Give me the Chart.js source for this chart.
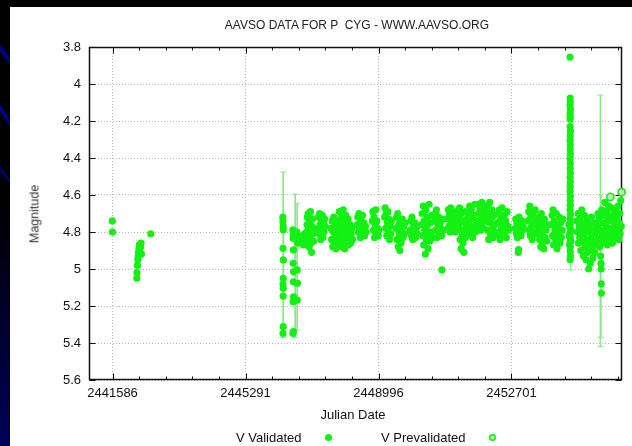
<!DOCTYPE html>
<html>
<head>
<meta charset="utf-8">
<title>P Cyg light curve</title>
<script src="https://cdn.jsdelivr.net/npm/chart.js@4/dist/chart.umd.min.js"></script>
<style>
  html, body { margin: 0; padding: 0; }
  body {
    width: 632px; height: 446px; position: relative; overflow: hidden;
    background: linear-gradient(180deg, #000 0%, #000 45%, #000058 100%);
    font-family: "Liberation Sans", Arial, sans-serif; color: #111;
  }
  #deco { position: absolute; left: 0; top: 0; }
  #panel { position: absolute; left: 10px; top: 7px; right: 0; bottom: 0; background: #fff; }
  #chart { position: absolute; left: 0; top: 0; }
  .txt { position: absolute; white-space: pre; line-height: 15px; font-size: 13px; }
  .dot { position: absolute; width: 7px; height: 7px; border-radius: 50%; background: #14f014; }
  .dot.pre { background: #b6f7b6; box-shadow: inset 0 0 0 1.6px #14f014; }
</style>
</head>
<body>
<svg id="deco" width="10" height="446">
  <line x1="-2" y1="45" x2="12" y2="64" stroke="#00008c" stroke-width="4"/>
  <line x1="-2" y1="105" x2="12" y2="126" stroke="#00008c" stroke-width="4"/>
  <line x1="-2" y1="166" x2="12" y2="184" stroke="#000070" stroke-width="3"/>
</svg>
<div id="panel"></div>
<canvas id="chart" width="632" height="446"></canvas>

<div class="txt" style="left:357px;top:18px;font-size:12px;color:#222;transform:translateX(-50%)">AAVSO DATA FOR P  CYG - WWW.AAVSO.ORG</div>
<div class="txt" style="left:35px;top:214px;font-size:12.5px;color:#333;transform:translate(-50%,-50%) rotate(-90deg)">Magnitude</div>
<div class="txt" style="left:353px;top:407px;transform:translateX(-50%)">Julian Date</div>
<div class="txt" style="left:236px;top:430px">V Validated</div>
<span class="dot" style="left:325px;top:434px"></span>
<div class="txt" style="left:381px;top:430px">V Prevalidated</div>
<span class="dot pre" style="left:489px;top:434px"></span>

<script>
// ── Axes ──────────────────────────────────────────────────────────────────────
const JD_MIN        = 2440930
const JD_MAX        = 2455780
const JD_MAJOR      = [2441586, 2445291, 2448996, 2452701]
const JD_MINOR_STEP = 741
const MAG_TICKS     = [3.8, 4, 4.2, 4.4, 4.6, 4.8, 5, 5.2, 5.4, 5.6]

const GREEN     = '#14f014'
const BAR_GREEN = '#8ce68c'

// ── Validated V observations [JD, mag] ───────────────────────────────────────
const early1970s = [
  [2441580, 4.74], [2441584, 4.80],
  [2442262, 5.05], [2442266, 5.02], [2442280, 4.98], [2442290, 4.95], [2442300, 4.93],
  [2442310, 4.91], [2442322, 4.89], [2442335, 4.87], [2442350, 4.90], [2442368, 4.88],
  [2442380, 4.86], [2442392, 4.92],
  [2442651, 4.81],
]

const fade1986 = [
  [2446330, 4.72], [2446334, 4.744], [2446338, 4.771], [2446342, 4.789], [2446336, 4.888],
  [2446344, 4.951], [2446340, 5.05], [2446335, 5.081], [2446343, 5.104], [2446338, 5.146],
  [2446341, 5.312], [2446336, 5.348],
  [2446610, 4.789], [2446620, 4.816], [2446615, 4.834], [2446625, 4.897], [2446618, 4.969],
  [2446630, 5.015], [2446622, 5.069], [2446628, 5.15], [2446616, 5.177], [2446624, 5.339],
  [2446612, 5.348],
  [2446720, 4.80], [2446735, 4.82], [2446728, 4.84], [2446742, 4.86], [2446730, 5.005],
  [2446738, 5.077], [2446733, 5.168],
]

const seasons1987to2006 = [
  [2446845, 4.83], [2446860, 4.86], [2446875, 4.82], [2446890, 4.85], [2446905, 4.87],
  [2446920, 4.84], [2446935, 4.81], [2446950, 4.86],

  [2446995, 4.80], [2447005, 4.76], [2447015, 4.72], [2447025, 4.84], [2447035, 4.70],
  [2447050, 4.78], [2447060, 4.88], [2447075, 4.74], [2447090, 4.82], [2447100, 4.69],
  [2447115, 4.86], [2447130, 4.91], [2447140, 4.77], [2447155, 4.73], [2447170, 4.81],
  [2447185, 4.85], [2447200, 4.79],

  [2447310, 4.78], [2447325, 4.72], [2447340, 4.81], [2447355, 4.70], [2447370, 4.76],
  [2447385, 4.84], [2447400, 4.74], [2447415, 4.79], [2447430, 4.71], [2447445, 4.83],
  [2447460, 4.75], [2447480, 4.80], [2447495, 4.73], [2447510, 4.77],

  [2447675, 4.78], [2447690, 4.84], [2447705, 4.74], [2447720, 4.88], [2447735, 4.80],
  [2447750, 4.72], [2447765, 4.86], [2447780, 4.76], [2447795, 4.82], [2447810, 4.89],
  [2447825, 4.79], [2447840, 4.85],

  [2447875, 4.74], [2447890, 4.81], [2447905, 4.69], [2447920, 4.86], [2447935, 4.77],
  [2447950, 4.83], [2447965, 4.72], [2447980, 4.88], [2447995, 4.79], [2448010, 4.68],
  [2448025, 4.84], [2448040, 4.75], [2448055, 4.89], [2448070, 4.80], [2448085, 4.71],
  [2448100, 4.85], [2448115, 4.77], [2448130, 4.82], [2448145, 4.73], [2448160, 4.87],
  [2448175, 4.79], [2448190, 4.83], [2448205, 4.76], [2448220, 4.86], [2448235, 4.81],
  [2448250, 4.78], [2448270, 4.84],

  [2448405, 4.76], [2448420, 4.72], [2448435, 4.80], [2448450, 4.70], [2448470, 4.78],
  [2448490, 4.83], [2448510, 4.74], [2448530, 4.81], [2448550, 4.71], [2448570, 4.79],
  [2448590, 4.75], [2448610, 4.82], [2448630, 4.77], [2448650, 4.80],

  [2448825, 4.74], [2448840, 4.69], [2448855, 4.79], [2448870, 4.72], [2448885, 4.83],
  [2448900, 4.76], [2448915, 4.68], [2448930, 4.81], [2448950, 4.74], [2448970, 4.78],
  [2448990, 4.82], [2449005, 4.79],

  [2449165, 4.72], [2449180, 4.67], [2449195, 4.78], [2449210, 4.70], [2449225, 4.82],
  [2449240, 4.75], [2449255, 4.69], [2449270, 4.80], [2449285, 4.73], [2449300, 4.84],
  [2449320, 4.77], [2449340, 4.81], [2449355, 4.74],

  [2449485, 4.78], [2449500, 4.72], [2449515, 4.84], [2449530, 4.70], [2449545, 4.88],
  [2449560, 4.76], [2449575, 4.81], [2449590, 4.90], [2449605, 4.74], [2449620, 4.86],
  [2449640, 4.79], [2449660, 4.73], [2449680, 4.83], [2449700, 4.77], [2449720, 4.81],
  [2449740, 4.75],

  [2449885, 4.79], [2449900, 4.74], [2449915, 4.82], [2449930, 4.72], [2449950, 4.84],
  [2449970, 4.77], [2449990, 4.80], [2450010, 4.75], [2450030, 4.83], [2450050, 4.78],
  [2450070, 4.81],

  [2450195, 4.76], [2450210, 4.70], [2450225, 4.82], [2450240, 4.66], [2450255, 4.87],
  [2450270, 4.74], [2450285, 4.79], [2450300, 4.92], [2450315, 4.68], [2450330, 4.84],
  [2450345, 4.77], [2450360, 4.72], [2450375, 4.89], [2450390, 4.81], [2450405, 4.65],
  [2450420, 4.85], [2450440, 4.75], [2450460, 4.80], [2450480, 4.71], [2450500, 4.83],

  [2450565, 4.74], [2450580, 4.70], [2450595, 4.79], [2450610, 4.68], [2450630, 4.83],
  [2450650, 4.76], [2450670, 4.72], [2450690, 4.81], [2450710, 4.75], [2450730, 4.78],
  [2450750, 4.82], [2450764, 5.005], [2450780, 4.73], [2450800, 4.79],

  [2450925, 4.73], [2450940, 4.68], [2450955, 4.77], [2450970, 4.71], [2450990, 4.80],
  [2451010, 4.67], [2451030, 4.75], [2451050, 4.79], [2451070, 4.70], [2451090, 4.77],
  [2451110, 4.73], [2451130, 4.80], [2451150, 4.69], [2451170, 4.76], [2451190, 4.74],

  [2451225, 4.72], [2451240, 4.78], [2451255, 4.67], [2451270, 4.84], [2451285, 4.75],
  [2451300, 4.89], [2451315, 4.70], [2451330, 4.81], [2451345, 4.86], [2451360, 4.74],
  [2451375, 4.91], [2451390, 4.79], [2451405, 4.69], [2451420, 4.83], [2451440, 4.77],
  [2451460, 4.73], [2451480, 4.80],

  [2451505, 4.70], [2451520, 4.76], [2451535, 4.66], [2451550, 4.81], [2451565, 4.73],
  [2451580, 4.68], [2451600, 4.79], [2451620, 4.83], [2451640, 4.71], [2451660, 4.77],
  [2451680, 4.65], [2451700, 4.80], [2451720, 4.74], [2451745, 4.78],

  [2451785, 4.70], [2451800, 4.65], [2451815, 4.75], [2451830, 4.68], [2451845, 4.79],
  [2451860, 4.72], [2451875, 4.64], [2451890, 4.77], [2451910, 4.70], [2451930, 4.74],
  [2451950, 4.67],

  [2452005, 4.72], [2452020, 4.66], [2452035, 4.79], [2452050, 4.70], [2452065, 4.84],
  [2452080, 4.75], [2452095, 4.64], [2452115, 4.81], [2452135, 4.73], [2452155, 4.68],
  [2452175, 4.78], [2452195, 4.83], [2452215, 4.71], [2452235, 4.76], [2452250, 4.80],

  [2452315, 4.75], [2452330, 4.70], [2452345, 4.81], [2452360, 4.68], [2452380, 4.84],
  [2452400, 4.73], [2452420, 4.78], [2452440, 4.67], [2452460, 4.82], [2452480, 4.76],
  [2452500, 4.71], [2452520, 4.80], [2452540, 4.74], [2452560, 4.83], [2452580, 4.69],
  [2452600, 4.77], [2452620, 4.79],

  [2452805, 4.78], [2452820, 4.73], [2452835, 4.81], [2452850, 4.75], [2452865, 4.83],
  [2452880, 4.77], [2452890, 4.91], [2452898, 4.895], [2452910, 4.72], [2452925, 4.80],
  [2452945, 4.76], [2452965, 4.82], [2452985, 4.74], [2453005, 4.79], [2453025, 4.77],

  [2453165, 4.74], [2453180, 4.69], [2453195, 4.79], [2453210, 4.66], [2453225, 4.82],
  [2453240, 4.72], [2453260, 4.77], [2453280, 4.84], [2453300, 4.70], [2453320, 4.80],
  [2453340, 4.75], [2453360, 4.68], [2453380, 4.81], [2453400, 4.76], [2453420, 4.73],

  [2453455, 4.78], [2453470, 4.72], [2453485, 4.84], [2453500, 4.75], [2453515, 4.88],
  [2453530, 4.70], [2453545, 4.81], [2453560, 4.86], [2453580, 4.77], [2453600, 4.89],
  [2453620, 4.73], [2453640, 4.83], [2453660, 4.79], [2453680, 4.85], [2453700, 4.76],

  [2453815, 4.76], [2453830, 4.71], [2453845, 4.82], [2453860, 4.68], [2453875, 4.87],
  [2453890, 4.74], [2453910, 4.79], [2453930, 4.84], [2453950, 4.70], [2453970, 4.89],
  [2453990, 4.77], [2454010, 4.81], [2454030, 4.72], [2454050, 4.86], [2454070, 4.75],
  [2454090, 4.83], [2454110, 4.79], [2454130, 4.73],
]

// 2007 season: the spread of visual estimates runs up to 4.1
const spread2007 = [
  [2454330, 3.854],
  [2454335, 4.076], [2454338, 4.095], [2454332, 4.115], [2454340, 4.135], [2454336, 4.155],
  [2454333, 4.175], [2454339, 4.19],
  [2454334, 4.23], [2454341, 4.255], [2454337, 4.28], [2454332, 4.305], [2454339, 4.33],
  [2454335, 4.355], [2454342, 4.38], [2454333, 4.405], [2454338, 4.43], [2454336, 4.455],
  [2454341, 4.48], [2454334, 4.505], [2454339, 4.53], [2454337, 4.555], [2454332, 4.58],
  [2454340, 4.605], [2454335, 4.63], [2454338, 4.655], [2454333, 4.68], [2454341, 4.705],
  [2454336, 4.73], [2454300, 4.76], [2454339, 4.755], [2454365, 4.79], [2454334, 4.78],
  [2454310, 4.82], [2454340, 4.805], [2454337, 4.83], [2454360, 4.85], [2454333, 4.855],
  [2454339, 4.88], [2454320, 4.87], [2454336, 4.905], [2454342, 4.93], [2454335, 4.95],
]

const seasons2008to2011 = [
  [2454525, 4.74], [2454540, 4.80], [2454555, 4.70], [2454570, 4.86], [2454585, 4.77],
  [2454600, 4.83], [2454615, 4.72], [2454630, 4.90], [2454645, 4.79], [2454660, 4.68],
  [2454675, 4.85], [2454690, 4.75], [2454705, 4.93], [2454720, 4.81], [2454735, 4.71],
  [2454750, 4.88], [2454765, 4.78], [2454780, 4.95], [2454795, 4.84], [2454810, 4.74],
  [2454825, 4.91], [2454840, 4.80], [2454852, 5.00], [2454865, 4.87], [2454880, 4.76],
  [2454895, 4.97], [2454910, 4.83], [2454925, 4.72], [2454940, 4.89], [2454955, 4.79],
  [2454970, 4.94], [2454985, 4.85], [2455000, 4.75], [2455015, 4.91], [2455030, 4.81],
  [2455045, 4.87], [2455060, 4.78],

  [2455095, 4.76], [2455110, 4.70], [2455125, 4.84], [2455140, 4.73], [2455155, 4.88],
  [2455170, 4.79], [2455185, 4.93], [2455195, 4.97], [2455200, 5.00], [2455203, 5.08],
  [2455206, 5.13], [2455215, 4.68], [2455230, 4.82], [2455245, 4.75], [2455260, 4.86],
  [2455275, 4.71], [2455290, 4.80], [2455305, 4.64], [2455320, 4.84], [2455335, 4.77],
  [2455350, 4.69], [2455365, 4.87], [2455380, 4.74], [2455395, 4.81], [2455410, 4.66],
  [2455425, 4.78], [2455440, 4.85], [2455455, 4.72], [2455470, 4.82], [2455485, 4.67],
  [2455500, 4.79], [2455515, 4.86], [2455530, 4.74], [2455545, 4.70], [2455560, 4.83],
  [2455575, 4.76], [2455590, 4.81], [2455605, 4.68], [2455620, 4.78],

  [2455640, 4.72], [2455655, 4.79], [2455670, 4.66], [2455685, 4.84], [2455700, 4.75],
  [2455715, 4.70], [2455730, 4.81], [2455745, 4.63], [2455760, 4.77],
]

// ── Prevalidated V observations [JD, mag] ────────────────────────────────────
const prevalidated = [
  [2455456, 4.61], [2455770, 4.585],
]

// ── Error bars [JD, bright end, faint end] ───────────────────────────────────
const errorBars = [
  [2446340, 4.476, 5.37],
  [2446674, 4.595, 5.37],
  [2446730, 4.645, 5.33],
  [2454345, 4.30, 5.005],
  [2455177, 4.06, 5.42],
  [2455190, 4.60, 5.37],
]

// ── Build datasets ────────────────────────────────────────────────────────────
const toPoints = rows => rows.map(([x, y]) => ({ x, y }))

const validated = [...early1970s, ...fade1986, ...seasons1987to2006, ...spread2007, ...seasons2008to2011]

const barPoints = []
errorBars.forEach(([x, lo, hi]) => {
  barPoints.push({ x, y: lo }, { x, y: hi }, { x, y: null })
})

// ── Frame: closed box with inward tick marks (gnuplot style) ─────────────────
const framePlugin = {
  id: 'frame',
  beforeDatasetsDraw(chart) {
    const { ctx, chartArea: a, scales: { x, y } } = chart
    const L = Math.round(a.left) + 0.5, R = Math.round(a.right) - 0.5
    const T = Math.round(a.top) + 0.5,  B = Math.round(a.bottom) - 0.5

    ctx.save()
    ctx.strokeStyle = '#111'
    ctx.lineWidth = 1
    ctx.beginPath()

    let start = JD_MAJOR[0]
    while (start - JD_MINOR_STEP >= x.min) start -= JD_MINOR_STEP
    for (let jd = start; jd <= x.max; jd += JD_MINOR_STEP) {
      const px  = Math.round(x.getPixelForValue(jd)) + 0.5
      const len = JD_MAJOR.includes(jd) ? 6 : 3
      ctx.moveTo(px, B); ctx.lineTo(px, B - len)
      ctx.moveTo(px, T); ctx.lineTo(px, T + len)
    }
    MAG_TICKS.forEach(m => {
      const py = Math.round(y.getPixelForValue(m)) + 0.5
      ctx.moveTo(L, py); ctx.lineTo(L + 6, py)
      ctx.moveTo(R, py); ctx.lineTo(R - 6, py)
    })
    ctx.stroke()

    ctx.lineWidth = 1.5
    ctx.strokeRect(L, T, R - L, B - T)
    ctx.restore()
  },
}

// ── Chart ─────────────────────────────────────────────────────────────────────
const tickFont = { family: '"Liberation Sans", Arial, sans-serif', size: 13 }

new Chart(document.getElementById('chart'), {
  type: 'scatter',
  data: {
    datasets: [
      {
        label: 'V Validated',
        data: toPoints(validated),
        pointRadius: 3.6,
        pointBorderWidth: 0,
        backgroundColor: GREEN,
        borderColor: GREEN,
        clip: 5,
      },
      {
        label: 'V Prevalidated',
        data: toPoints(prevalidated),
        pointRadius: 3.6,
        pointBorderWidth: 1.6,
        backgroundColor: '#b6f7b6',
        borderColor: GREEN,
        clip: 5,
      },
      {
        label: 'errors',
        data: barPoints,
        showLine: true,
        spanGaps: false,
        borderColor: BAR_GREEN,
        borderWidth: 1,
        pointStyle: 'line',
        pointRadius: 3,
        pointBorderWidth: 1,
        pointBorderColor: BAR_GREEN,
      },
    ],
  },
  options: {
    responsive: false,
    animation: false,
    devicePixelRatio: 1,
    layout: { padding: { left: 0, top: 47, right: 10, bottom: 0 } },
    plugins: { legend: { display: false }, tooltip: { enabled: false } },
    scales: {
      x: {
        type: 'linear',
        min: JD_MIN,
        max: JD_MAX,
        afterBuildTicks: s => { s.ticks = JD_MAJOR.map(v => ({ value: v })) },
        afterFit: s => { s.height = 66 },
        grid: { color: '#b9b9b9', drawTicks: false },
        border: { display: false, dash: [1, 2] },
        ticks: { padding: 6, maxRotation: 0, autoSkip: false, color: '#111', font: tickFont,
                 callback: v => String(v) },
      },
      y: {
        reverse: true,
        min: 3.8,
        max: 5.6,
        afterBuildTicks: s => { s.ticks = MAG_TICKS.map(v => ({ value: v })) },
        afterFit: s => { s.width = 89 },
        grid: { color: '#b9b9b9', drawTicks: false },
        border: { display: false, dash: [1, 2] },
        ticks: { padding: 8, color: '#111', font: tickFont,
                 callback: v => String(+v.toFixed(1)) },
      },
    },
  },
  plugins: [framePlugin],
})
</script>
</body>
</html>
